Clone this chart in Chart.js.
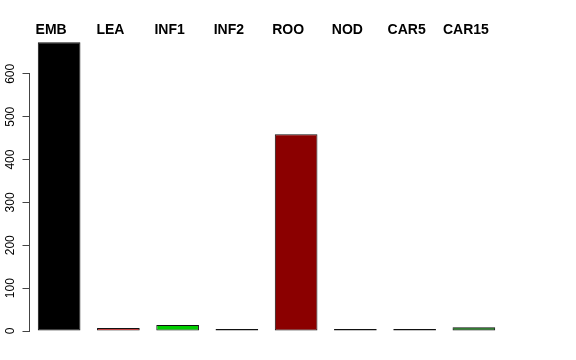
<!DOCTYPE html>
<html>
<head>
<meta charset="utf-8">
<script src="https://cdn.jsdelivr.net/npm/chart.js@4"></script>
<style>
  html, body { margin: 0; padding: 0; background: #ffffff; }
  canvas { display: block; }
</style>
</head>
<body>
<canvas id="c" width="576" height="360"></canvas>
<script>
const categories = ["EMB", "LEA", "INF1", "INF2", "ROO", "NOD", "CAR5", "CAR15"];
const values = [674, 7, 14, 2, 459, 4, 1.5, 9];
const barColors = ["#000000", "#FF0000", "#00CD00", "#000080", "#8B0000", "#8B008B", "#666666", "#006400"];
const yTickMax = 600;

const topLabels = {
  id: 'topLabels',
  afterDraw(chart) {
    const ctx = chart.ctx;
    const xs = chart.scales.x;
    ctx.save();
    ctx.font = 'bold 14px "Liberation Sans", Arial, sans-serif';
    ctx.fillStyle = '#000';
    ctx.textAlign = 'center';
    ctx.textBaseline = 'middle';
    categories.forEach((c, i) => {
      ctx.fillText(c, xs.getPixelForValue(i) - 8, 30);
    });
    // y axis line from 0 to last tick
    const ys = chart.scales.y;
    const x = Math.round(chart.chartArea.left) - 0.5;
    ctx.strokeStyle = '#444';
    ctx.lineWidth = 1;
    ctx.beginPath();
    ctx.moveTo(x, ys.getPixelForValue(0));
    ctx.lineTo(x, ys.getPixelForValue(yTickMax));
    ctx.stroke();
    ctx.restore();
  }
};

new Chart(document.getElementById('c'), {
  type: 'bar',
  data: {
    labels: categories,
    datasets: [{
      data: values,
      backgroundColor: barColors,
      borderColor: '#111111',
      borderWidth: 1,
      borderSkipped: false,
      minBarLength: 2,
      categoryPercentage: 1.0,
      barPercentage: 0.72
    }]
  },
  options: {
    responsive: false,
    animation: false,
    events: [],
    layout: { padding: { top: 31, bottom: 29, left: 0, right: 72.5 } },
    plugins: { legend: { display: false }, tooltip: { enabled: false }, title: { display: false } },
    scales: {
      x: { display: false, offset: true },
      y: {
        min: 0,
        max: 700,
        afterFit(s) { s.width = 29.5; },
        afterBuildTicks(s) { s.ticks = s.ticks.filter(t => t.value <= yTickMax); },
        border: { display: false },
        grid: { drawOnChartArea: false, drawTicks: true, tickLength: 7, color: '#444', lineWidth: 1 },
        ticks: {
          stepSize: 100,
          minRotation: 90,
          maxRotation: 90,
          crossAlign: 'center',
          padding: 1.5,
          color: '#000',
          font: { family: '"Liberation Sans", Arial, sans-serif', size: 12 }
        }
      }
    }
  },
  plugins: [topLabels]
});
</script>
</body>
</html>
